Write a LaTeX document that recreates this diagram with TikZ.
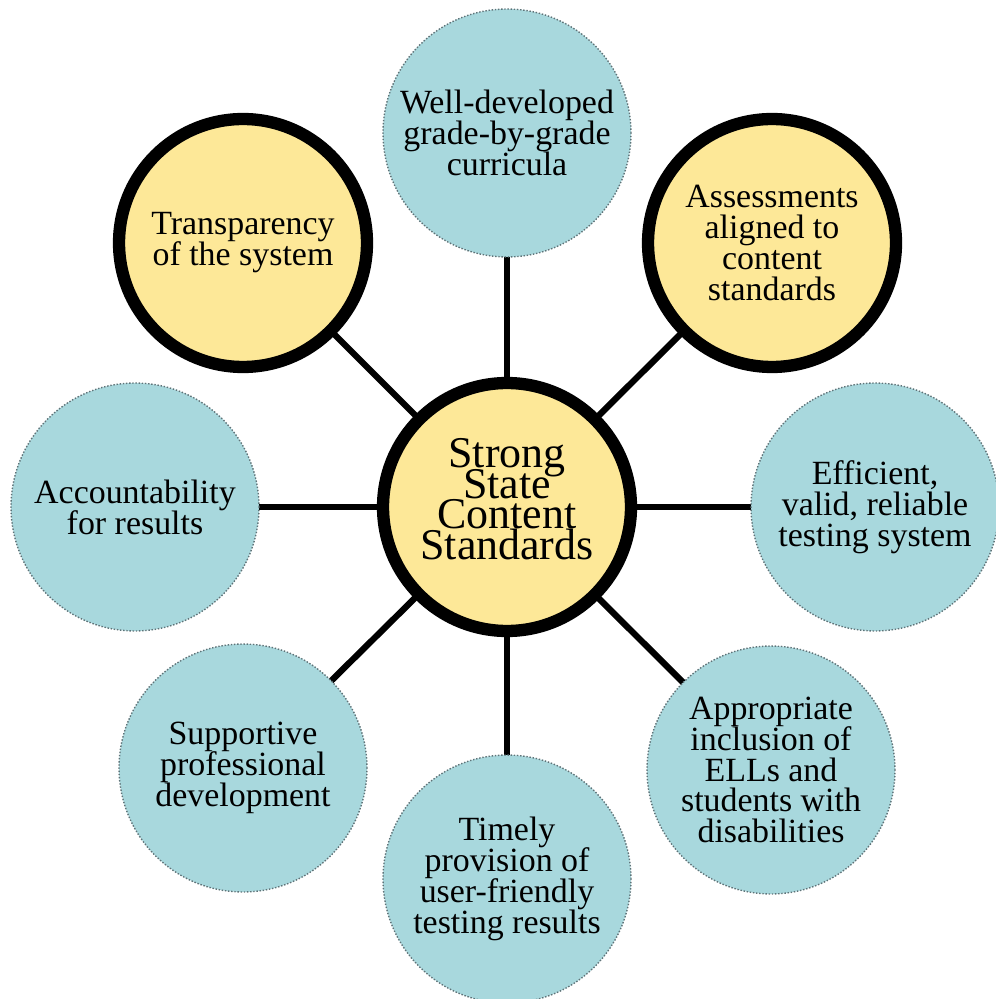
\documentclass[tikz,border=0pt]{standalone}
\usepackage{fontspec}
\setmainfont{Liberation Serif}
\usetikzlibrary{backgrounds}
\definecolor{cblue}{RGB}{168,216,221}
\definecolor{cyellow}{RGB}{253,232,152}
\definecolor{cborder}{RGB}{95,115,120}
\newcommand\tightls{\lineskiplimit-50pt\relax}
\begin{document}
\begin{tikzpicture}[x=0.02cm,y=-0.02cm,
  sat/.style={circle, minimum size=4.96cm, inner sep=0pt, align=center,
    font=\fontsize{19.3}{17.6}\selectfont\tightls},
  bluec/.style={sat, fill=cblue, draw=cborder, line width=0.8pt, densely dotted},
  yelc/.style={sat, fill=cyellow, draw=black, line width=7pt},
  link/.style={line width=3.6pt, draw=black}]
\useasboundingbox (0,0) rectangle (995,999);
\node[yelc] (C) at (507,507) {};
\node[font=\fontsize{25}{17.4}\selectfont\tightls, align=center] (ctext) at (507,499) {Strong\\State\\Content\\Standards};
\node[bluec] (T) at (507,133) {Well-developed\\grade-by-grade\\curricula};
\node[yelc] (TR) at (772,243) {Assessments\\aligned to\\content\\standards};
\node[bluec] (R) at (875,507) {Efficient,\\valid, reliable\\testing system};
\node[bluec] (BR) at (771,770) {Appropriate\\inclusion of\\ELLs and\\students with\\disabilities};
\node[bluec] (B) at (507,879) {Timely\\provision of\\user-friendly\\testing results};
\node[bluec] (BL) at (243,768) {Supportive\\professional\\development};
\node[bluec] (L) at (135,507) {Accountability\\for results};
\node[yelc] (TL) at (243,243) {Transparency\\of the system};
\begin{scope}[on background layer]
\foreach \n in {T,TR,R,BR,B,BL,L,TL} \draw[link] (C.center) -- (\n.center);
\end{scope}
\end{tikzpicture}
\end{document}
